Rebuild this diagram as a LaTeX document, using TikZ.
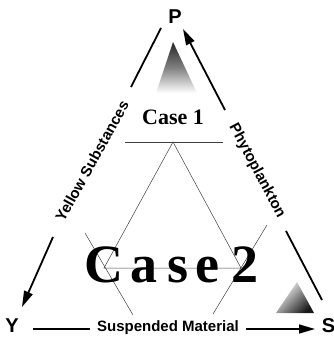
\documentclass[tikz,border=0pt]{standalone}
\usepackage{fontspec}
\setmainfont{Liberation Serif}
\newfontfamily\labelfont{Liberation Sans}
\usetikzlibrary{arrows.meta}
\begin{document}
\begin{tikzpicture}[x=1pt,y=-1pt,
  side/.style={line width=1.8pt, line cap=butt},
  thinline/.style={line width=0.5pt, black!75},
  corner/.style={font=\labelfont\bfseries\fontsize{20}{20}\selectfont, inner sep=0pt},
  lab/.style={font=\labelfont\bfseries\fontsize{15}{15}\selectfont, inner sep=0pt},
  bigcase/.style={font=\bfseries\fontsize{54}{54}\selectfont, inner sep=0pt, anchor=base},
  arr/.style={-{Triangle[length=16pt,width=9pt]}}]
\useasboundingbox (0,0) rectangle (334,343);

% gray gradient triangles
\shade[top color=black!85, bottom color=white, middle color=black!50]
  (173,42) -- (156,93) -- (197,93) -- cycle;
\shade[shading=axis, top color=white, bottom color=black!90, shading angle=45]
  (297,282) -- (276,313) -- (314,313) -- cycle;

% corner letters
\node[corner] (P) at (175,17) {P};
\node[corner] (Y) at (12,326) {Y};
\node[corner] (S) at (328.5,326) {S};

% side labels
\node[lab, rotate=61] (ys) at (92,161) {Yellow Substances};
\node[lab, rotate=-62] (ph) at (257,171) {Phytoplankton};
\node[lab, anchor=base] (sm) at (168,331.5) {Suspended Material};

% side connectors
\coordinate (l1) at (161,28);
\coordinate (l2) at (131,87);
\coordinate (l3) at (53,237);
\coordinate (l4) at (22,307);
\coordinate (r1) at (225,110);
\coordinate (r2) at (183,29);
\coordinate (r3) at (286,231);
\coordinate (r4) at (322,300);
\coordinate (b1) at (33,329);
\coordinate (b2) at (90,329);
\coordinate (b3) at (246,329);
\coordinate (b4) at (315,329);
\draw[side] (l1) -- (l2);
\draw[side, arr] (l3) -- (l4);
\draw[side, arr] (r1) -- (r2);
\draw[side] (r3) -- (r4);
\draw[side] (b1) -- (b2);
\draw[side, line width=1.4pt, arr] (b3) -- (b4);

% case regions
\node[font=\bfseries\fontsize{22}{22}\selectfont, inner sep=0pt, anchor=base] (c1) at (173,124) {Case 1};
\coordinate (h1) at (125,142);
\coordinate (h2) at (223,142);
\coordinate (T) at (173,142);
\coordinate (BL) at (104,268);
\coordinate (BR) at (241,268);
\coordinate (x1) at (85,233);
\coordinate (x2) at (133,315);
\coordinate (x3) at (267,225);
\coordinate (x4) at (213,314);
\draw[thinline] (h1) -- (h2);
\draw[thinline] (BL) -- (T) -- (BR) -- cycle;
\draw[thinline] (x1) -- (x2);
\draw[thinline] (x3) -- (x4);

\node[bigcase] (cC) at (104,282) {C};
\node[bigcase] (ca) at (144,282) {a};
\node[bigcase] (cs) at (178,282) {s};
\node[bigcase] (ce) at (207,282) {e};
\node[bigcase] (c2) at (245,282) {2};
\end{tikzpicture}
\end{document}
